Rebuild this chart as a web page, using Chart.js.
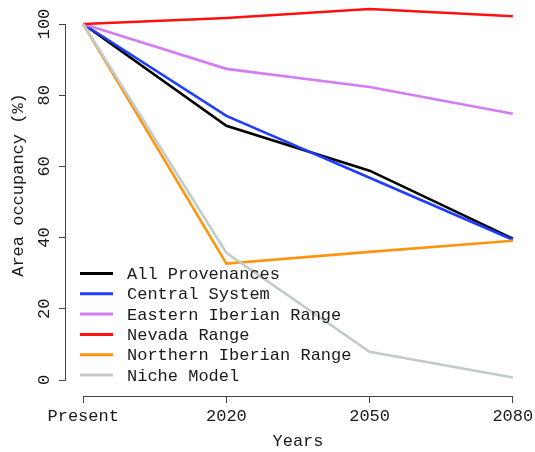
<!DOCTYPE html>
<html>
<head>
<meta charset="utf-8">
<script src="https://cdn.jsdelivr.net/npm/chart.js@4/dist/chart.umd.min.js"></script>
<style>
  html, body { margin: 0; padding: 0; background: #fff; }
  #wrap { width: 535px; height: 452px; }
</style>
</head>
<body>
<div id="wrap"><canvas id="c" width="535" height="452"></canvas></div>
<script>
// Projection periods on the x axis
const periods = ['Present', '2020', '2050', '2080'];
// Y axis tick values (area occupancy, %)
const yTicks = [0, 20, 40, 60, 80, 100];

// Series: area occupancy (%) by provenance
const seriesNames = ['All Provenances', 'Central System', 'Eastern Iberian Range',
                     'Nevada Range', 'Northern Iberian Range', 'Niche Model'];
const allProvenances   = [100, 71.4, 58.8, 39.7];
const centralSystem    = [100, 74.2, 56.8, 39.4];
const easternIberian   = [100, 87.4, 82.3, 74.8];
const nevadaRange      = [100, 101.7, 104.2, 102.2];
const northernIberian  = [100, 32.7, 36.0, 39.1];
const nicheModel       = [100, 35.7, 7.9, 0.7];

const seriesValues = [allProvenances, centralSystem, easternIberian,
                      nevadaRange, northernIberian, nicheModel];
const seriesColors = ['#000000', '#1f3dff', '#d67cf2', '#ff1010', '#ff9410', '#c1cbc8'];

const FONT = '"Liberation Mono", "DejaVu Sans Mono", monospace';
const FSIZE = 17;
const TEXT = '#1a1a1a';
const AXIS = '#444444';

const datasets = seriesValues.map((vals, i) => ({
  label: seriesNames[i],
  data: vals.map((v, j) => ({ x: j, y: v })),
  borderColor: seriesColors[i],
  backgroundColor: seriesColors[i],
  borderWidth: 2.6,
  pointRadius: 0,
  tension: 0,
  fill: false,
  // later series are painted over earlier ones
  order: seriesValues.length - i
}));

// Detached axis lines, rotated y labels, y title and in-plot legend
const extras = {
  id: 'extras',
  afterDraw(chart) {
    const ctx = chart.ctx;
    const xs = chart.scales.x, ys = chart.scales.y;
    const area = chart.chartArea;
    ctx.save();
    ctx.strokeStyle = AXIS;
    ctx.lineWidth = 1;
    // x axis line spanning first to last period
    const yb = Math.round(area.bottom) + 0.5;
    ctx.beginPath();
    ctx.moveTo(xs.getPixelForValue(0), yb);
    ctx.lineTo(xs.getPixelForValue(periods.length - 1), yb);
    ctx.stroke();
    // y axis line spanning 0..100
    const xl = Math.round(area.left) - 0.5;
    ctx.beginPath();
    ctx.moveTo(xl, ys.getPixelForValue(yTicks[0]));
    ctx.lineTo(xl, ys.getPixelForValue(yTicks[yTicks.length - 1]));
    ctx.stroke();

    // rotated y tick labels
    ctx.fillStyle = TEXT;
    ctx.font = FSIZE + 'px ' + FONT;
    ctx.textAlign = 'center';
    ctx.textBaseline = 'middle';
    yTicks.forEach(v => {
      ctx.save();
      ctx.translate(44, ys.getPixelForValue(v));
      ctx.rotate(-Math.PI / 2);
      ctx.fillText(String(v), 0, 0);
      ctx.restore();
    });

    // y axis title
    ctx.save();
    ctx.translate(18, 185);
    ctx.rotate(-Math.PI / 2);
    ctx.fillText('Area occupancy (%)', 0, 0);
    ctx.restore();

    // legend
    const lx0 = 80, lx1 = 113, tx = 127, top = 273.5, step = 20.3;
    ctx.textAlign = 'left';
    seriesNames.forEach((name, i) => {
      const y = top + i * step;
      ctx.strokeStyle = seriesColors[i];
      ctx.lineWidth = 3;
      ctx.beginPath();
      ctx.moveTo(lx0, y);
      ctx.lineTo(lx1, y);
      ctx.stroke();
      ctx.fillStyle = TEXT;
      ctx.fillText(name, tx, y + 1);
    });
    ctx.restore();
  }
};

new Chart(document.getElementById('c'), {
  type: 'line',
  data: { datasets },
  options: {
    responsive: false,
    animation: false,
    layout: { padding: { top: 5, right: 5, left: 0, bottom: 0 } },
    plugins: {
      legend: { display: false },
      tooltip: { enabled: false }
    },
    scales: {
      x: {
        type: 'linear',
        min: -0.12,
        max: periods.length - 1 + 0.12,
        afterBuildTicks: s => { s.ticks = periods.map((p, i) => ({ value: i })); },
        afterFit: s => { s.height = 56; s.paddingLeft = 0; s.paddingRight = 0; },
        ticks: {
          autoSkip: false,
          maxRotation: 0,
          padding: 3,
          color: TEXT,
          font: { family: FONT, size: FSIZE },
          callback: v => periods[v]
        },
        grid: { drawOnChartArea: false, drawTicks: true, tickLength: 7, color: AXIS, lineWidth: 1 },
        border: { display: false },
        title: {
          display: true,
          text: 'Years',
          color: TEXT,
          font: { family: FONT, size: FSIZE },
          padding: { top: 0, bottom: 0 }
        }
      },
      y: {
        type: 'linear',
        min: -4.494,
        max: 105.34,
        afterBuildTicks: s => { s.ticks = yTicks.map(v => ({ value: v })); },
        afterFit: s => { s.width = 66; },
        ticks: { display: false },
        grid: { drawOnChartArea: false, drawTicks: true, tickLength: 7, color: AXIS, lineWidth: 1 },
        border: { display: false }
      }
    }
  },
  plugins: [extras]
});
</script>
</body>
</html>
